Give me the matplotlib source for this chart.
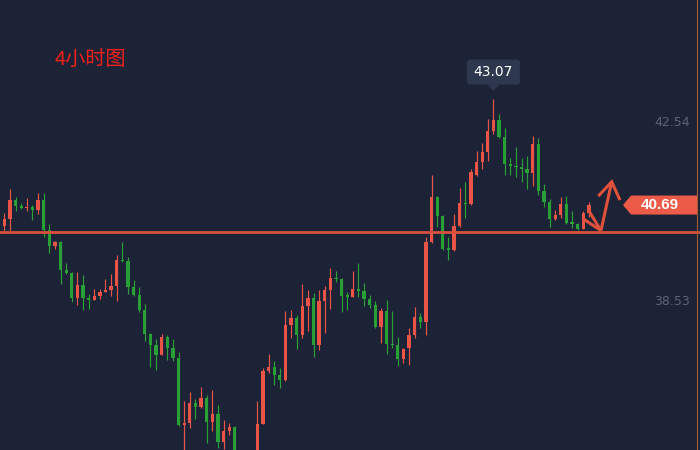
import matplotlib
matplotlib.use("Agg")
import matplotlib.pyplot as plt
import matplotlib.transforms as mtransforms
from matplotlib.patches import Polygon, FancyBboxPatch
import numpy as np

# ---------------- data ----------------
opens = [40.22, 40.38, 40.80, 40.67, 40.62, 40.65, 40.58, 40.80, 40.13, 39.78,
         39.86, 39.24, 39.17, 38.61, 38.90, 38.61, 38.57, 38.66, 38.75, 38.79,
         38.88, 39.46, 39.44, 38.86, 38.68, 38.34, 37.81, 37.56, 37.34, 37.74,
         37.49, 37.27, 35.77, 35.82, 36.27, 36.18, 36.38, 35.84, 36.02, 35.39,
         35.64, 35.73, 34.90, 34.60, 34.82, 35.00, 35.80, 36.98, 37.07, 36.89,
         36.78, 38.01, 38.17, 37.79, 38.43, 38.61, 37.56, 38.55, 38.79, 39.06,
         39.04, 38.66, 38.64, 38.81, 38.77, 38.59, 38.46, 37.96, 38.32, 37.59,
         37.56, 37.25, 37.49, 37.79, 38.19, 38.08, 39.86, 40.87, 40.45, 39.71,
         39.69, 40.22, 40.74, 40.71, 41.36, 41.65, 41.87, 42.35, 42.59, 42.21,
         41.61, 41.56, 41.54, 41.50, 41.41, 42.06, 41.00, 40.76, 40.38, 40.47,
         40.71, 40.29, 40.27, 40.16, 40.51]
highs = [40.51, 41.05, 40.87, 40.74, 40.85, 40.69, 40.96, 40.96, 40.27, 39.89,
         39.89, 39.40, 39.19, 39.19, 39.12, 38.70, 38.81, 38.81, 39.04, 39.15,
         39.57, 39.86, 39.53, 39.02, 38.86, 38.48, 37.83, 37.70, 37.81, 37.79,
         37.70, 37.40, 36.31, 36.51, 36.36, 36.62, 36.44, 36.56, 36.22, 35.89,
         35.82, 35.75, 35.05, 35.00, 35.10, 36.31, 37.05, 37.36, 37.20, 37.05,
         38.32, 38.34, 38.23, 38.93, 38.79, 38.72, 38.79, 38.88, 39.28, 39.22,
         39.06, 38.75, 39.22, 39.40, 38.95, 38.68, 38.55, 38.39, 38.57, 38.32,
         37.74, 37.49, 37.94, 38.41, 38.28, 39.98, 41.36, 40.89, 40.47, 39.98,
         40.49, 41.07, 41.20, 41.50, 41.90, 42.08, 42.61, 43.07, 42.72, 42.41,
         41.74, 41.99, 41.74, 41.79, 42.23, 42.19, 41.16, 40.83, 40.58, 40.87,
         40.89, 40.56, 40.29, 40.56, 40.76]
lows = [40.09, 40.09, 40.56, 40.61, 40.56, 40.36, 40.49, 39.98, 39.62, 39.71,
        38.93, 39.15, 38.52, 38.46, 38.34, 38.37, 38.56, 38.59, 38.74, 38.66,
        38.55, 39.42, 38.70, 38.66, 38.30, 37.65, 37.07, 37.00, 37.33, 37.23,
        37.20, 35.76, 34.95, 35.71, 35.91, 36.15, 35.37, 35.64, 35.26, 35.24,
        35.55, 34.80, 34.50, 34.45, 34.70, 34.90, 35.79, 36.94, 36.67, 36.60,
        36.76, 37.72, 37.47, 37.72, 37.87, 37.29, 37.45, 37.83, 38.37, 38.97,
        38.30, 38.34, 38.63, 38.64, 38.43, 38.39, 37.95, 37.61, 37.36, 37.49,
        37.09, 37.16, 37.12, 37.72, 37.94, 37.79, 39.85, 40.20, 39.69, 39.46,
        39.66, 40.21, 40.40, 40.69, 41.35, 41.50, 41.67, 42.28, 42.19, 41.36,
        41.36, 41.32, 41.20, 41.05, 41.12, 40.91, 40.65, 40.20, 40.36, 40.40,
        40.27, 40.18, 40.13, 40.15, 40.42]
closes = [40.38, 40.80, 40.67, 40.62, 40.65, 40.58, 40.80, 40.13, 39.78, 39.86,
          39.24, 39.17, 38.61, 38.90, 38.61, 38.57, 38.66, 38.75, 38.79, 38.88,
          39.46, 39.44, 38.86, 38.68, 38.34, 37.81, 37.56, 37.34, 37.74, 37.49,
          37.27, 35.77, 35.82, 36.27, 36.18, 36.38, 35.84, 36.02, 35.39, 35.64,
          35.73, 34.90, 34.60, 34.82, 35.00, 35.80, 36.98, 37.07, 36.89, 36.78,
          38.01, 38.17, 37.79, 38.43, 38.61, 37.56, 38.55, 38.79, 39.06, 39.04,
          38.66, 38.64, 38.81, 38.77, 38.59, 38.46, 37.96, 38.32, 37.59, 37.56,
          37.25, 37.47, 37.79, 38.19, 38.08, 39.86, 40.87, 40.45, 39.71, 39.69,
          40.22, 40.74, 40.71, 41.43, 41.65, 41.87, 42.35, 42.59, 42.21, 41.61,
          41.56, 41.54, 41.50, 41.41, 42.06, 41.00, 40.76, 40.38, 40.47, 40.71,
          40.29, 40.27, 40.16, 40.51, 40.69]

title_text = "4小时图"
tick_values = [42.54, 38.53]
tick_labels = ["42.54", "38.53"]
support_level = 40.08
peak_label = "43.07"
last_label = "40.69"
# hand-drawn arrow annotation: (candle index, price) points
arrow_x = [[102.99, 106.14], [103.88, 106.14], [106.14, 108.04], [105.66, 108.04, 109.52]]
arrow_y = [[40.38, 40.12], [40.58, 40.12], [40.12, 41.21], [40.89, 41.21, 40.80]]

# ---------------- styling ----------------
BG = "#1d2336"
UP = "#ea5446"
DOWN = "#28a035"
LINE = "#d9503c"

fig = plt.figure(figsize=(7, 4.5), dpi=100, facecolor=BG)
ax = fig.add_axes([0, 0, 1, 1], facecolor=BG)
ax.set_xlim(-0.765, 123.75)
ax.set_ylim(35.215, 45.273)
ax.set_axis_off()

o = np.array(opens)
h = np.array(highs)
l = np.array(lows)
c = np.array(closes)
x = np.arange(len(o))
up = c >= o
colors = np.where(up, UP, DOWN)

ax.vlines(x, l, h, colors=colors, linewidth=0.85, zorder=2)
ax.bar(x, np.maximum(np.abs(c - o), 0.03), bottom=np.minimum(o, c), width=0.58,
       color=colors, linewidth=0, zorder=3)

# support line
ax.axhline(support_level, color=LINE, linewidth=2.0, zorder=4)

# right thin vertical line
ax.plot([697 / 700, 697 / 700], [0, 1], transform=ax.transAxes,
        color="#a85a35", linewidth=0.8, zorder=4)

# hand-drawn arrow
for xs, ys in zip(arrow_x, arrow_y):
    ax.plot(xs, ys, color="#e0503a", linewidth=2.2, solid_capstyle="butt",
            solid_joinstyle="miter", zorder=5)

# axis price labels
blend = mtransforms.blended_transform_factory(ax.transAxes, ax.transData)
for v, t in zip(tick_values, tick_labels):
    ax.text(690 / 700, v, t, transform=blend, ha="right", va="center",
            color="#5c6374", fontsize=9, family="DejaVu Sans", zorder=6)

# title
ax.text(55 / 700, 1 - 59.5 / 450, title_text, transform=ax.transAxes,
        ha="left", va="center", color="#f0201c", fontsize=14.5,
        family=["Noto Sans CJK SC", "DejaVu Sans"], zorder=6)

# peak tooltip
pk = int(np.argmax(h))
tr = fig.dpi_scale_trans + mtransforms.ScaledTranslation(pk, h[pk], ax.transData)
TIP = "#2d374d"
ax.add_patch(FancyBboxPatch((-0.265, 0.14), 0.53, 0.25,
                            boxstyle="round,pad=0,rounding_size=0.03",
                            facecolor=TIP, edgecolor="none", transform=tr, zorder=7))
ax.add_patch(Polygon([(0, 0.075), (-0.06, 0.142), (0.06, 0.142)], closed=True,
                     facecolor=TIP, edgecolor="none", transform=tr, zorder=7))
ax.text(0, 0.265, peak_label, transform=tr, ha="center", va="center",
        color="white", fontsize=10, family="DejaVu Sans", zorder=8)

# last price label
trl = fig.dpi_scale_trans + mtransforms.ScaledTranslation(1.0, c[-1], blend)
ax.add_patch(Polygon([(-0.77, 0.0), (-0.69, 0.095), (-0.03, 0.095),
                      (-0.03, -0.095), (-0.69, -0.095)], closed=True,
                     facecolor="#ec5a48", edgecolor="none", transform=trl, zorder=7))
ax.text(-0.40, 0.0, last_label, transform=trl, ha="center", va="center",
        color="white", fontsize=11, fontweight="bold", family="Liberation Sans",
        zorder=8)

fig.savefig("out.png", dpi=100, facecolor=BG)
